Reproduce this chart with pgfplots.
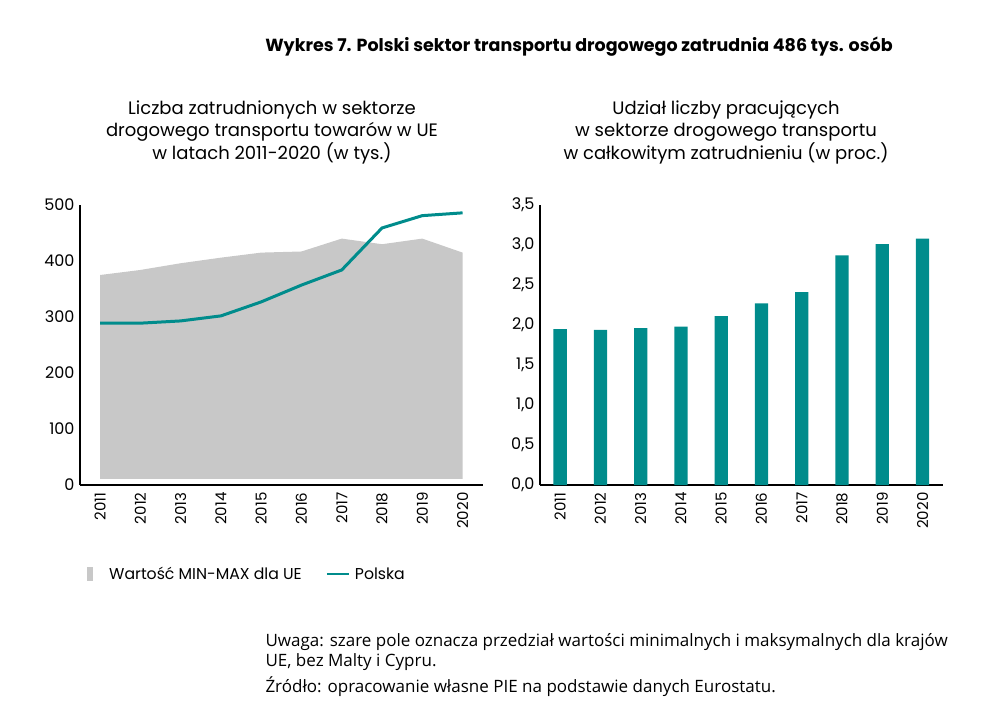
\documentclass[border=0pt]{standalone}
\usepackage{pgfplots}
\pgfplotsset{compat=1.18}
\usepackage{fontspec}
\setmainfont{Poppins}
\newfontfamily\notefont{Open Sans}
\definecolor{teal1}{HTML}{008C8C}
\definecolor{gfill}{HTML}{C8C8C8}
\begin{document}
\begin{tikzpicture}
\path[use as bounding box] (0pt,0pt) rectangle (998pt,-715pt);
\node[font=\bfseries\fontsize{17.5}{20}\selectfont, anchor=base] at (579pt,-51pt) {Wykres 7. Polski sektor transportu drogowego zatrudnia 486 tys. osób};
\begin{scope}[every node/.style={font=\fontsize{18}{21}\selectfont, anchor=base}]
\node at (272pt,-114pt) {Liczba zatrudnionych w sektorze};
\node at (272pt,-136pt) {drogowego transportu towarów w UE};
\node at (272pt,-159pt) {w latach 2011-2020 (w tys.)};
\node at (726pt,-114pt) {Udział liczby pracujących};
\node at (726pt,-136pt) {w sektorze drogowego transportu};
\node at (726pt,-159pt) {w całkowitym zatrudnieniu (w proc.)};
\end{scope}
\pgfplotsset{
  mystyle/.style={
    scale only axis, width=402.7pt, height=280pt,
    axis lines=left, axis line style={-, black, line width=1.3pt},
    major tick length=0pt,
    xmin=2010.5, xmax=2020.5, ymin=0,
    xtick={2011,...,2020},
    y tick label style={font=\fontsize{16}{19}\selectfont},
    x tick label style={font=\fontsize{15}{18}\selectfont, rotate=90, anchor=east, /pgf/number format/1000 sep={}},
    /pgf/number format/assume math mode=true,
    xticklabel shift=4pt, yticklabel shift=2pt,
    clip=false,
  }
}
\begin{axis}[mystyle, at={(80pt,-485pt)}, anchor=south west,
  ymax=500, ytick={0,100,...,500},
  legend style={at={(0.01,-0.318)}, anchor=west, draw=none, fill=none,
    font=\fontsize{15.7}{18}\selectfont, legend columns=2,
    /tikz/every odd column/.append style={column sep=3pt},
    /tikz/every even column/.append style={column sep=22pt}},
  legend cell align=left]
\addplot[fill=gfill, draw=none, legend image code/.code={\fill[gfill] (0pt,-7pt) rectangle (6pt,7pt); \path (17pt,0pt);}]
  coordinates {(2011,11) (2012,11) (2013,11) (2014,11) (2015,11) (2016,11) (2017,11) (2018,11) (2019,11) (2020,11)
  (2020,415) (2019,440) (2018,430) (2017,440) (2016,417) (2015,415) (2014,406) (2013,396) (2012,384) (2011,375)} -- cycle;
\addlegendentry{Wartość MIN-MAX dla UE}
\addplot[teal1, line width=3pt, mark=none, legend image code/.code={\draw[teal1, line width=2.2pt] (0pt,0pt) -- (22pt,0pt);}]
  coordinates {(2011,289) (2012,289) (2013,293) (2014,302) (2015,327) (2016,357) (2017,384) (2018,459) (2019,481) (2020,486)};
\addlegendentry{Polska}
\end{axis}
\begin{axis}[mystyle, at={(540pt,-485pt)}, anchor=south west,
  ymax=3.5, ytick={0,0.5,...,3.5},
  yticklabel style={/pgf/number format/.cd, fixed, fixed zerofill, precision=1, use comma},
  ybar, bar width=13.3pt, bar shift=0pt]
\addplot[fill=teal1, draw=none]
  coordinates {(2011,1.95) (2012,1.94) (2013,1.96) (2014,1.98) (2015,2.11) (2016,2.27) (2017,2.41) (2018,2.87) (2019,3.01) (2020,3.08)};
\end{axis}
\begin{scope}[every node/.style={font=\notefont\fontsize{17}{20}\selectfont, anchor=base west}]
\node at (262pt,-646pt) {Uwaga: szare pole oznacza przedział wartości minimalnych i maksymalnych dla krajów};
\node at (262pt,-666pt) {UE, bez Malty i Cypru.};
\node at (262pt,-692pt) {Źródło: opracowanie własne PIE na podstawie danych Eurostatu.};
\end{scope}
\end{tikzpicture}
\end{document}
